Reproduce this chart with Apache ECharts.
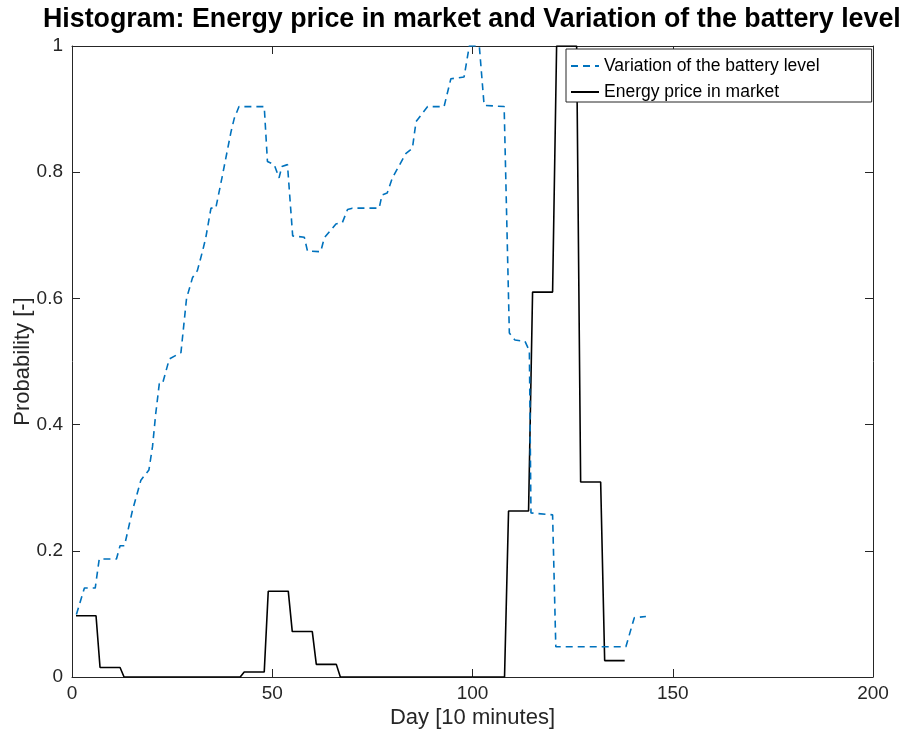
<!DOCTYPE html>
<html>
<head>
<meta charset="utf-8">
<script src="https://cdn.jsdelivr.net/npm/echarts@6/dist/echarts.min.js"></script>
<style>
  html, body { margin: 0; padding: 0; background: #fff; }
  #chart { width: 907px; height: 738px; }
</style>
</head>
<body>
<div id="chart"></div>
<script>
// Battery-level variation: polyline vertices (day index, probability)
const batteryDay = [1.1, 3.1, 5.8, 6.8, 11.1, 12, 13.1, 15.1, 17.2, 19.2, 20.1, 20.9, 21.8, 22.6, 24.3,
  27.2, 28.6, 30.1, 31.3, 32.6, 33.4, 34.7, 35.9, 37.6, 38.4, 39.7, 40.5, 41.7, 48, 48.8,
  50.5, 51.7, 52.4, 53.8, 55.1, 58, 58.8, 62.1, 63, 65.9, 67.5, 68.8, 70, 76.7, 77.4,
  78.7, 80, 83.4, 85, 85.9, 88.8, 92.9, 94.6, 97.9, 99.2, 101.7, 102.9, 107.9, 109.2, 110.6,
  113.1, 114.2, 114.6, 120, 120.8, 138.3, 140.4, 143.3];
const batteryProb = [0.099, 0.141, 0.141, 0.187, 0.187, 0.208, 0.208, 0.264, 0.312, 0.328, 0.365, 0.417, 0.465, 0.465, 0.504,
  0.514, 0.60, 0.633, 0.644, 0.675, 0.696, 0.743, 0.743, 0.796, 0.822, 0.864, 0.885, 0.904, 0.904, 0.817,
  0.812, 0.791, 0.809, 0.812, 0.699, 0.697, 0.675, 0.674, 0.696, 0.718, 0.72, 0.741, 0.743, 0.743, 0.764,
  0.767, 0.791, 0.830, 0.838, 0.88, 0.904, 0.904, 0.948, 0.951, 1.0, 1.0, 0.906, 0.904, 0.545, 0.534,
  0.532, 0.517, 0.26, 0.257, 0.048, 0.048, 0.094, 0.096];

// Energy price in market: histogram bins drawn as flat tops joined by sloped edges
const priceDay = [1, 6, 7, 12, 13, 42, 43, 48, 49, 54, 55, 60, 61, 66, 67,
  108, 109, 114, 115, 120, 121, 126, 127, 132, 133, 138];
const priceProb = [0.097, 0.097, 0.015, 0.015, 0, 0, 0.008, 0.008, 0.136, 0.136, 0.072, 0.072, 0.020, 0.020, 0,
  0, 0.263, 0.263, 0.610, 0.610, 1.0, 1.0, 0.309, 0.309, 0.026, 0.026];

const xTicks = [0, 50, 100, 150, 200];
const yTicks = [0, 0.2, 0.4, 0.6, 0.8, 1];

const zip = (xs, ys) => xs.map((x, i) => [x, ys[i]]);

const FONT = 'Liberation Sans';
const AXIS_COLOR = '#262626';

const chart = echarts.init(document.getElementById('chart'), null, { renderer: 'canvas' });

const baseAxis = {
  type: 'value',
  axisLine: { show: true, onZero: false, lineStyle: { color: AXIS_COLOR, width: 1 } },
  axisTick: { show: true, inside: true, length: 8, lineStyle: { color: AXIS_COLOR, width: 1 } },
  splitLine: { show: false },
  minorTick: { show: false }
};

chart.setOption({
  animation: false,
  backgroundColor: '#ffffff',
  title: {
    text: 'Histogram: Energy price in market and Variation of the battery level',
    left: 38,
    top: 1,
    textStyle: { fontFamily: FONT, fontSize: 26.8, fontWeight: 'bold', color: '#000' }
  },
  grid: { left: 72, right: 34, top: 46, bottom: 61, containLabel: false, outerBoundsMode: 'none' },
  legend: {
    orient: 'vertical',
    left: 566,
    top: 49,
    padding: [8, 52, 1, 4],
    itemGap: 8,
    itemWidth: 28,
    itemHeight: 14,
    backgroundColor: '#fff',
    borderColor: AXIS_COLOR,
    borderWidth: 1,
    borderRadius: 0,
    itemStyle: { color: 'rgba(0,0,0,0)', borderColor: 'rgba(0,0,0,0)', borderWidth: 0 },
    textStyle: { fontFamily: FONT, fontSize: 17.5, color: '#000', padding: [0, 0, 0, 0] },
    data: ['Variation of the battery level', 'Energy price in market']
  },
  xAxis: [
    Object.assign({}, baseAxis, {
      position: 'bottom',
      min: xTicks[0], max: xTicks[xTicks.length - 1], interval: 50,
      name: 'Day [10 minutes]',
      nameLocation: 'middle',
      nameGap: 30,
      nameMoveOverlap: false,
      nameTextStyle: { fontFamily: FONT, fontSize: 22, color: AXIS_COLOR },
      axisLabel: { fontFamily: FONT, fontSize: 19, color: AXIS_COLOR, margin: 7 }
    }),
    Object.assign({}, baseAxis, {
      position: 'top',
      min: xTicks[0], max: xTicks[xTicks.length - 1], interval: 50,
      axisLabel: { show: false }
    })
  ],
  yAxis: [
    Object.assign({}, baseAxis, {
      position: 'left',
      min: yTicks[0], max: yTicks[yTicks.length - 1], interval: 0.2,
      name: 'Probability [-]',
      nameLocation: 'middle',
      nameGap: 38,
      nameMoveOverlap: false,
      nameTextStyle: { fontFamily: FONT, fontSize: 22, color: AXIS_COLOR },
      axisLabel: { fontFamily: FONT, fontSize: 19, color: AXIS_COLOR, margin: 9,
        formatter: v => String(Math.round(v * 10) / 10) }
    }),
    Object.assign({}, baseAxis, {
      position: 'right',
      min: yTicks[0], max: yTicks[yTicks.length - 1], interval: 0.2,
      axisLabel: { show: false }
    })
  ],
  series: [
    {
      name: 'Variation of the battery level',
      type: 'line',
      xAxisIndex: 0, yAxisIndex: 0,
      data: zip(batteryDay, batteryProb),
      symbol: 'none',
      showSymbol: false,
      clip: true,
      lineStyle: { color: '#0072BD', width: 1.6, type: [7, 5] },
      itemStyle: { color: '#0072BD' },
      z: 3
    },
    {
      name: 'Energy price in market',
      type: 'line',
      xAxisIndex: 0, yAxisIndex: 0,
      data: zip(priceDay, priceProb),
      symbol: 'none',
      showSymbol: false,
      clip: true,
      lineStyle: { color: '#000000', width: 1.6, type: 'solid' },
      itemStyle: { color: '#000000' },
      z: 2
    }
  ]
});
</script>
</body>
</html>
